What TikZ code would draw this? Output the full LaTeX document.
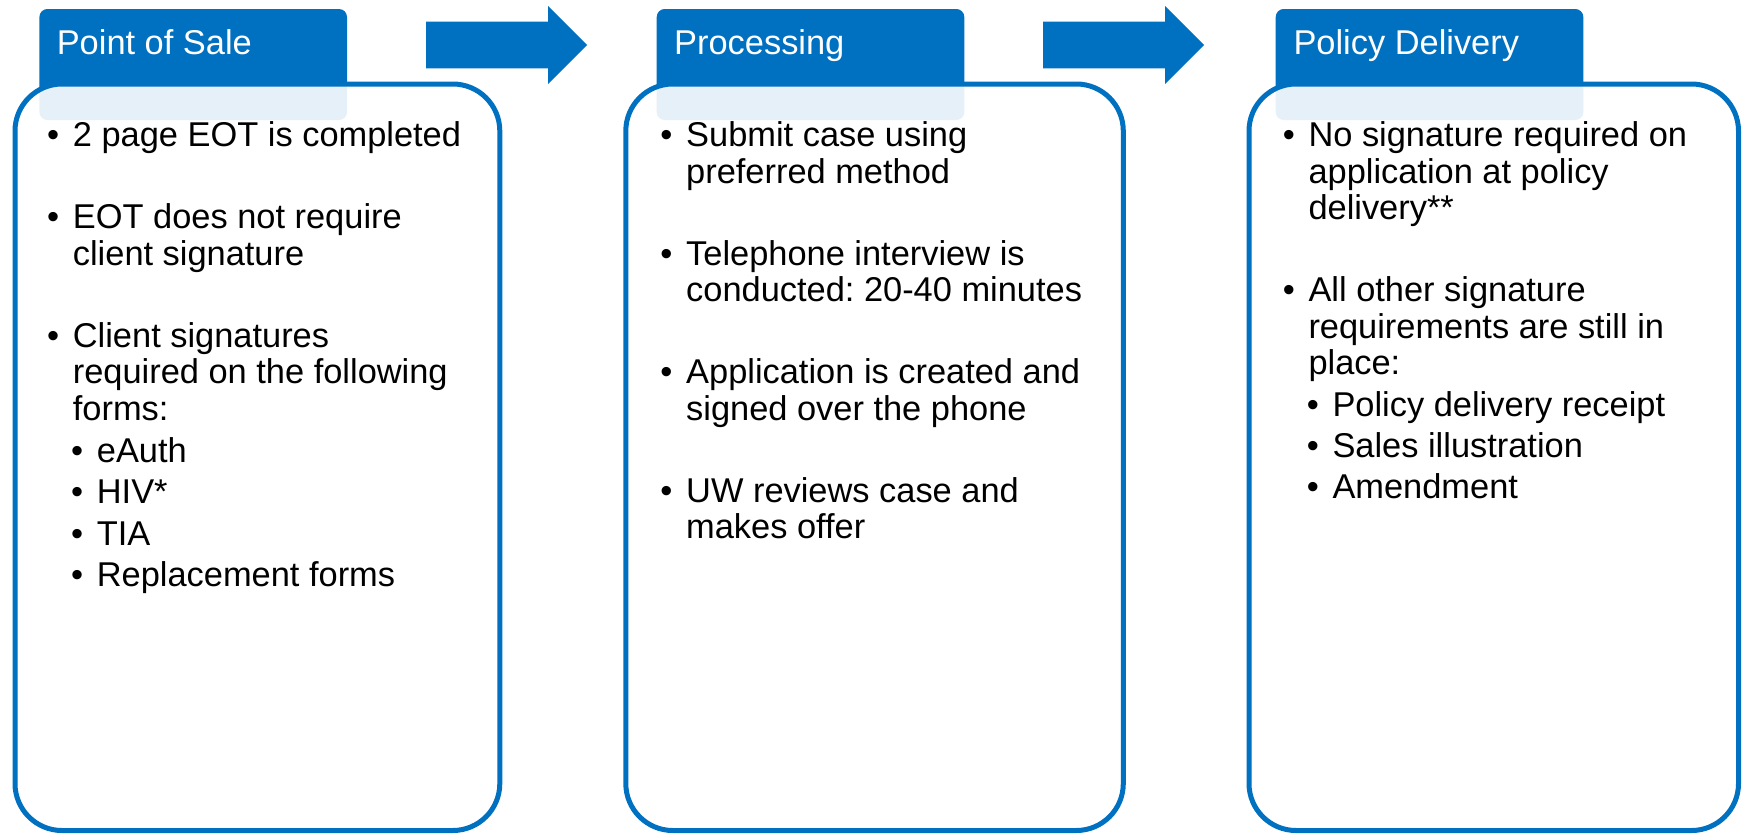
\documentclass[tikz,border=0pt]{standalone}
\usepackage{fontspec}
\setmainfont{Liberation Sans}
\frenchspacing
\definecolor{fcBlue}{HTML}{0070C0}
\newcommand{\bul}{\llap{\textbullet\hspace{13.7pt}}}
\newcommand{\bodyfont}{\fontsize{34.4pt}{36.5pt}\selectfont}
\tikzset{
  tab/.style={
    fill=fcBlue, rounded corners=8pt, anchor=north west,
    inner sep=0pt, outer sep=0pt, minimum width=307.6pt, minimum height=111pt
  },
  panel/.style={
    draw=fcBlue, line width=5pt, fill=white, fill opacity=0.9,
    rounded corners=47pt, anchor=north west, inner sep=0pt, outer sep=0pt,
    minimum height=746.5pt
  },
  headtxt/.style={anchor=base west, inner sep=0pt, text=white, font=\bodyfont},
  % multi-line items sit on the baseline of their last line
  item/.style={anchor=base west, inner sep=0pt, align=left, text=black, font=\bodyfont},
  flowarrow/.style={fill=fcBlue},
}

\begin{document}
\begin{tikzpicture}[x=1pt, y=-1pt]
  \useasboundingbox (0,0) rectangle (1743,833);

  % block arrows between the stages
  \foreach \ax in {426,1043}
    \fill[flowarrow] (\ax,21.7) -- ++(122,0) -- ++(0,-15.7) -- ++(39,39)
      -- ++(-39,39) -- ++(0,-15.7) -- ++(-122,0) -- cycle;

  % Point of Sale
  \node[tab] (tabA) at (39.4,9) {};
  \node[panel, minimum width=484.8pt] (boxA) at (15,84) {};
  \node[headtxt] (headA) at (56.6,54.5) {Point of Sale};
  \node[item] (a1) at (72.7,146.7) {\bul 2 page EOT is completed};
  \node[item] (a2) at (72.7,265.2) {\bul EOT does not require\\client signature};
  \node[item] (a3) at (72.7,420.2) {\bul Client signatures\\required on the following\\forms:};
  \foreach \t [count=\i] in {eAuth, HIV*, TIA, Replacement forms}
    \node[item] (a3-\i) at (96.7,{462.2+41.5*(\i-1)}) {\bul \t};

  % Processing
  \node[tab] (tabB) at (656.7,9) {};
  \node[panel, minimum width=497.5pt] (boxB) at (625.8,84) {};
  \node[headtxt] (headB) at (674,54.5) {Processing};
  \node[item] (b1) at (686,183.2) {\bul Submit case using\\preferred method};
  \node[item] (b2) at (686,301.7) {\bul Telephone interview is\\conducted: 20-40 minutes};
  \node[item] (b3) at (686,420.2) {\bul Application is created and\\signed over the phone};
  \node[item] (b4) at (686,538.7) {\bul UW reviews case and\\makes offer};

  % Policy Delivery
  \node[tab] (tabC) at (1275.7,9) {};
  \node[panel, minimum width=489.5pt] (boxC) at (1249,84) {};
  \node[headtxt] (headC) at (1293.3,54.5) {Policy Delivery};
  \node[item] (c1) at (1308.3,219.7) {\bul No signature required on\\application at policy\\delivery**};
  \node[item] (c2) at (1308.3,374.7) {\bul All other signature\\requirements are still in\\place:};
  \foreach \t [count=\i] in {Policy delivery receipt, Sales illustration, Amendment}
    \node[item] (c2-\i) at (1332.3,{416.2+41*(\i-1)}) {\bul \t};
\end{tikzpicture}
\end{document}
